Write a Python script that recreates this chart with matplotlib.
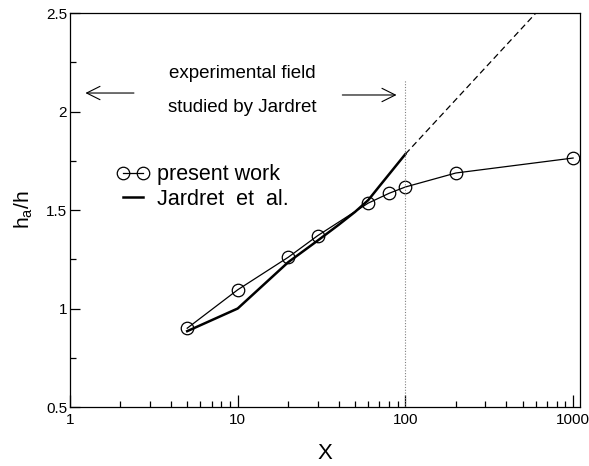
import numpy as np
import matplotlib
matplotlib.use("Agg")
import matplotlib.pyplot as plt
from matplotlib.ticker import FixedLocator, FuncFormatter, NullFormatter

plt.rcParams['font.family'] = ['Liberation Sans', 'DejaVu Sans']

# present work (circles)
x_present = [5, 10, 20, 30, 60, 80, 100, 200, 1000]
y_present = [0.90, 1.095, 1.26, 1.37, 1.535, 1.585, 1.617, 1.688, 1.764]

# Jardret et al. (bold line) and its dashed extrapolation
x_jardret = [5, 10, 20, 30, 40, 50, 60, 70, 80, 100]
y_jardret = [0.885, 1.0, 1.235, 1.345, 1.425, 1.49, 1.55, 1.621, 1.682, 1.784]
x_extrap = [100, 600]
y_extrap = [1.784, 2.5]

# limit of the experimental field
x_field = 100
y_field_top = 2.16

fig = plt.figure(figsize=(5.89, 4.66), dpi=100)
ax = fig.add_axes([0.1188, 0.1266, 0.866, 0.8454])

ax.plot(x_present, y_present, color='black', linewidth=0.9,
        marker='o', markersize=9, markerfacecolor='none',
        markeredgecolor='black', markeredgewidth=0.9, label='present work')
ax.plot(x_jardret, y_jardret, color='black', linewidth=1.8,
        label='Jardret  et  al.')
ax.plot(x_extrap, y_extrap, color='black', linewidth=0.9, linestyle=(0, (5, 3)))
ax.plot([x_field, x_field], [0.5, y_field_top], color='gray',
        linewidth=0.8, linestyle=(0, (1, 1.5)))

# arrows and text for the experimental field
ax.annotate('', xy=(1.19, 2.094), xytext=(2.5, 2.094),
            arrowprops=dict(arrowstyle='->', color='black', lw=0.8,
                            mutation_scale=24))
ax.annotate('', xy=(92, 2.084), xytext=(40.5, 2.084),
            arrowprops=dict(arrowstyle='->', color='black', lw=0.8,
                            mutation_scale=24))
ax.text(10.6, 2.195, 'experimental field', ha='center', va='center',
        fontsize=13.5)
ax.text(10.6, 2.023, 'studied by Jardret', ha='center', va='center',
        fontsize=13.5)

ax.set_xscale('log')
ax.set_xlim(1, 1100)
ax.set_ylim(0.5, 2.5)

ax.xaxis.set_major_locator(FixedLocator([1, 10, 100, 1000]))
ax.xaxis.set_major_formatter(FuncFormatter(lambda v, p: '%d' % v))
minors = [m * 10 ** e for e in range(0, 3) for m in range(2, 10)]
ax.xaxis.set_minor_locator(FixedLocator(minors))
ax.xaxis.set_minor_formatter(NullFormatter())
ax.yaxis.set_major_locator(FixedLocator([0.5, 1.0, 1.5, 2.0, 2.5]))
ax.yaxis.set_major_formatter(FuncFormatter(lambda v, p: '%g' % v))
ax.yaxis.set_minor_locator(FixedLocator([0.75, 1.25, 1.75, 2.25]))

ax.tick_params(which='both', direction='in', top=False, right=False,
               labelsize=11, width=0.9)
ax.tick_params(axis='x', which='major', length=9, pad=4)
ax.tick_params(axis='x', which='minor', length=4.5)
ax.tick_params(axis='y', which='major', length=7.5, pad=2)
ax.tick_params(axis='y', which='minor', length=4)
for s in ax.spines.values():
    s.set_linewidth(0.9)

ax.set_xlabel('X', fontsize=16, labelpad=12)
ax.set_ylabel(r'h$_\mathregular{a}$/h', fontsize=15, labelpad=8)

ax.legend(loc='upper left', bbox_to_anchor=(0.075, 0.638), frameon=False,
          fontsize=15.5, handlelength=1.5, handletextpad=0.35,
          labelspacing=0.15, numpoints=2, borderaxespad=0)

fig.savefig('out.png', dpi=100)
